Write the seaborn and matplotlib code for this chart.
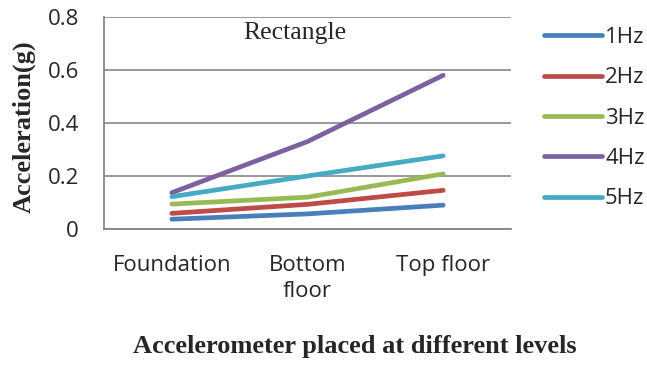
import numpy as np
import pandas as pd
import matplotlib
matplotlib.use("Agg")
import matplotlib.pyplot as plt
import seaborn as sns

levels = ["Foundation", "Bottom\nfloor", "Top floor"]
freqs = ["1Hz", "2Hz", "3Hz", "4Hz", "5Hz"]
acc_1hz = [0.037, 0.057, 0.090]
acc_2hz = [0.059, 0.093, 0.146]
acc_3hz = [0.094, 0.120, 0.208]
acc_4hz = [0.137, 0.330, 0.580]
acc_5hz = [0.122, 0.200, 0.276]
colors = ["#4A7EBB", "#BE4B48", "#98B954", "#7D60A0", "#46AAC5"]

series = [acc_1hz, acc_2hz, acc_3hz, acc_4hz, acc_5hz]
pos = np.arange(len(levels)) + 0.5
df = pd.DataFrame({
    "pos": np.tile(pos, len(freqs)),
    "acc": np.concatenate(series),
    "freq": np.repeat(freqs, len(levels)),
})

sns.set_style("white")
plt.rcParams["font.family"] = ["Open Sans", "DejaVu Sans"]

fig = plt.figure(figsize=(6.47, 3.66), dpi=100)
ax = fig.add_axes([104 / 647, 1 - 229 / 366, (511 - 104) / 647, (229 - 17) / 366])

sns.lineplot(data=df, x="pos", y="acc", hue="freq", hue_order=freqs,
             palette=colors, linewidth=3.4, ax=ax, legend=True,
             solid_capstyle="round")

grid_c = "#868686"
ax.set_xlim(0, 3)
ax.set_ylim(0, 0.8)
ax.set_yticks([0, 0.2, 0.4, 0.6, 0.8])
ax.set_yticklabels(["0", "0.2", "0.4", "0.6", "0.8"], fontsize=16)
ax.set_xticks([0, 1, 2, 3])
ax.set_xticklabels([])
ax.set_xticks(pos, minor=True)
ax.set_xticklabels(levels, minor=True, fontsize=16, linespacing=1.3)
ax.tick_params(axis="x", which="minor", length=0, pad=19)
ax.tick_params(axis="x", which="major", length=5, width=1.3, color=grid_c, direction="out")
ax.tick_params(axis="y", length=6, width=1.3, color=grid_c, direction="out", pad=12)
ax.grid(axis="y", color=grid_c, linewidth=1.2)
for s in ["top", "right"]:
    ax.spines[s].set_visible(False)
for s in ["left", "bottom"]:
    ax.spines[s].set_color(grid_c)
    ax.spines[s].set_linewidth(1.3)

ax.set_xlabel("")
ax.set_ylabel("")
fig.text(24 / 647, 1 - 127 / 366, "Acceleration(g)", rotation=90,
         ha="center", va="center", fontsize=19, fontweight="bold",
         family="Liberation Serif")
fig.text(355 / 647, 1 - 346 / 366, "Accelerometer placed at different levels",
         ha="center", va="center", fontsize=19, fontweight="bold",
         family="Liberation Serif")
fig.text(295 / 647, 1 - 33 / 366, "Rectangle", ha="center", va="center",
         fontsize=18.5, family="Liberation Serif")

leg = ax.legend(loc="upper left", bbox_to_anchor=(544 / 647, 1 - 27 / 366),
                bbox_transform=fig.transFigure, frameon=False, fontsize=16,
                handlelength=2.6, handletextpad=0.15, labelspacing=0.87,
                borderaxespad=0, borderpad=0)
for h in leg.get_lines():
    h.set_linewidth(3.4)
    h.set_solid_capstyle("round")

fig.savefig("out.png", dpi=100)
